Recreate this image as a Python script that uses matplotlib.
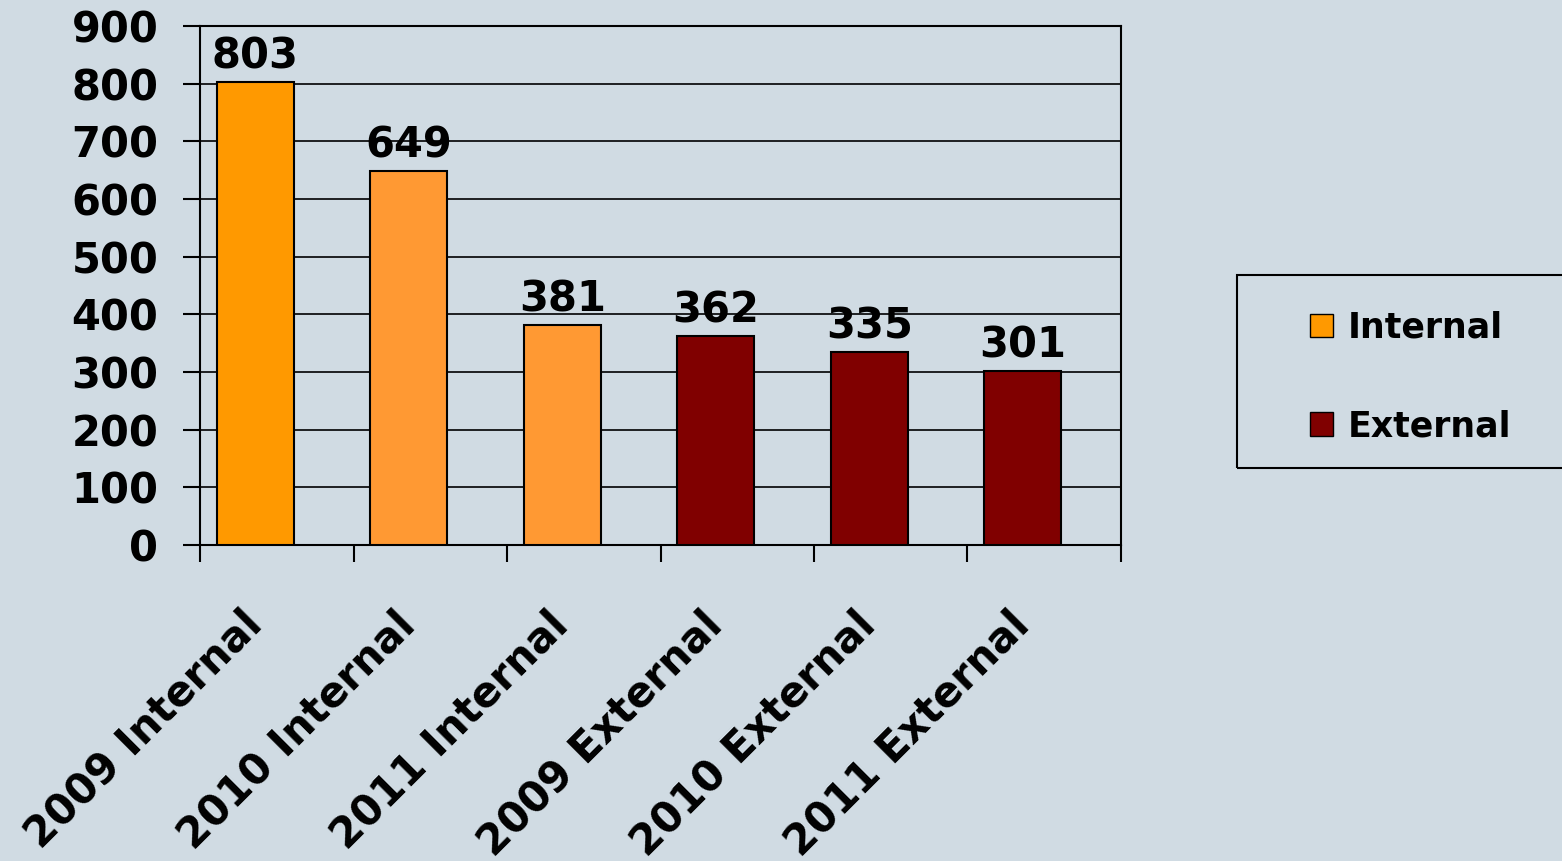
import matplotlib.pyplot as plt
import matplotlib.transforms as mtransforms
from matplotlib.patches import Patch, Rectangle
import numpy as np

categories = ["2009 Internal", "2010 Internal", "2011 Internal",
              "2009 External", "2010 External", "2011 External"]
values = [803, 649, 381, 362, 335, 301]
colors = ["#FF9900", "#FF9933", "#FF9933", "#800000", "#800000", "#800000"]

bg = "#D0DBE3"
plt.rcParams['font.family'] = ['DejaVu Sans']
plt.rcParams['font.weight'] = 'bold'

fig = plt.figure(figsize=(15.62, 8.61), dpi=100, facecolor=bg)
ax = fig.add_axes([200 / 1562, 1 - 545 / 861, 921 / 1562, 519 / 861])
ax.set_facecolor(bg)

x = np.arange(len(categories))
ax.set_axisbelow(True)
ax.yaxis.grid(True, color="black", linewidth=1.2)
ax.bar(x, values, width=0.5, color=colors, edgecolor="black", linewidth=1.5, zorder=3)

# value labels above bars
for xi, v in zip(x, values):
    ax.text(xi, v + 8, str(v), ha="center", va="bottom", fontsize=30,
            fontweight="bold", zorder=4)

ax.set_xlim(-0.36, 5.64)
ax.set_ylim(0, 900)
ax.set_yticks(range(0, 901, 100))
ax.set_xticks(np.arange(-0.36, 5.7, 1.0))
ax.set_xticklabels([])
ax.set_xticks(x, minor=True)
ax.set_xticklabels(categories, minor=True, rotation=45, ha="right",
                   rotation_mode="anchor", fontsize=30, fontweight="bold")
ax.tick_params(axis="x", which="minor", length=0, pad=42)
ax.tick_params(axis="x", which="major", length=12, width=1.5, direction="out")
ax.tick_params(axis="y", length=12, width=1.5, labelsize=30, pad=18)
for lbl in ax.get_yticklabels():
    lbl.set_fontweight("bold")

offset = mtransforms.ScaledTranslation(-15 / 100, 0, fig.dpi_scale_trans)
for lbl in ax.xaxis.get_minorticklabels():
    lbl.set_transform(lbl.get_transform() + offset)

for s in ax.spines.values():
    s.set_linewidth(1.5)

# legend box (runs off the right edge)
fig.patches.append(Rectangle((1237 / 1562, 1 - 468 / 861), 400 / 1562, 193 / 861,
                             transform=fig.transFigure, facecolor="none",
                             edgecolor="black", linewidth=1.5))
handles = [Patch(facecolor="#FF9900", edgecolor="black", label="Internal"),
           Patch(facecolor="#800000", edgecolor="black", label="External")]
leg = fig.legend(handles=handles, loc="upper left",
                 bbox_to_anchor=(1310 / 1562, 1 - 311 / 861),
                 frameon=False, prop={"weight": "bold", "size": 25},
                 handlelength=0.65, handleheight=0.65, handletextpad=0.45,
                 labelspacing=1.85, borderpad=0, borderaxespad=0)

fig.savefig("out.png", dpi=100, facecolor=bg)
